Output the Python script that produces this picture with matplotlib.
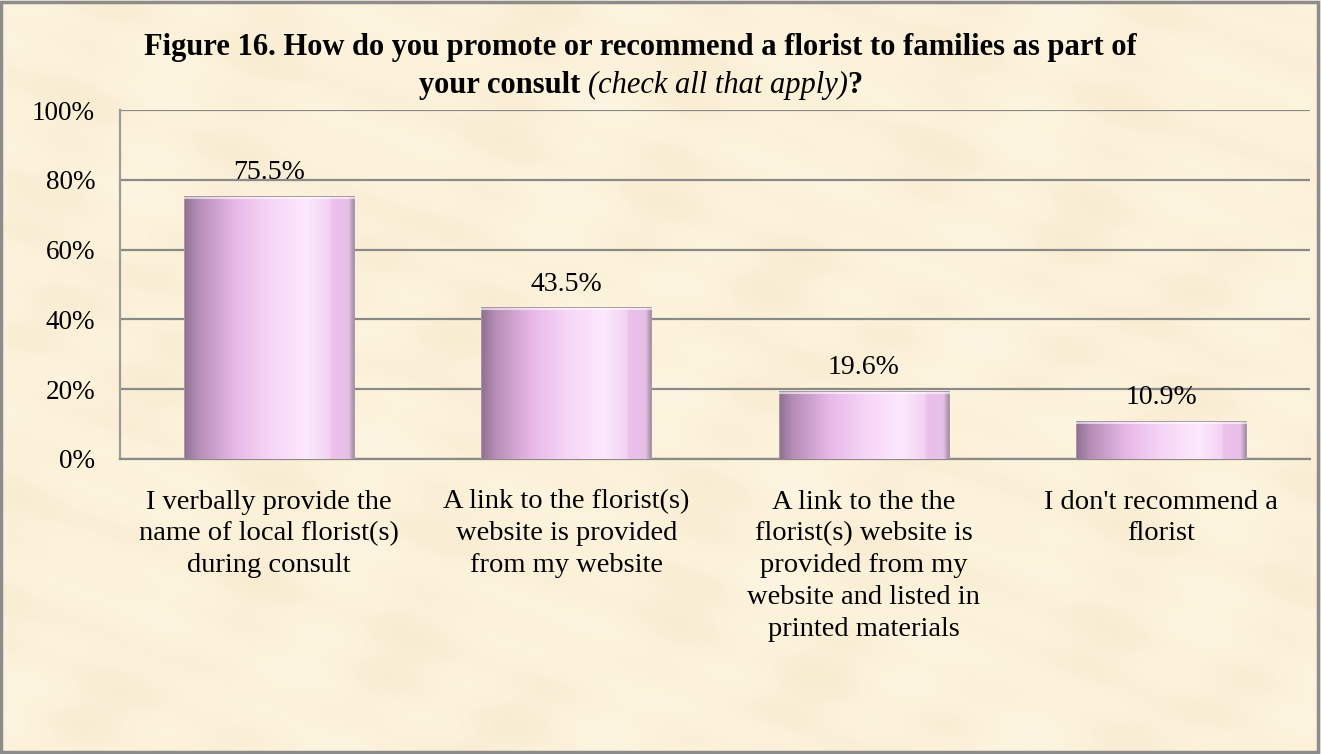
import numpy as np
import matplotlib.pyplot as plt
from matplotlib.colors import LinearSegmentedColormap
from matplotlib.patches import Rectangle

categories = [
    "I verbally provide the\nname of local florist(s)\nduring consult",
    "A link to the florist(s)\nwebsite is provided\nfrom my website",
    "A link to the the\nflorist(s) website is\nprovided from my\nwebsite and listed in\nprinted materials",
    "I don't recommend a\nflorist",
]
values = [75.5, 43.5, 19.6, 10.9]
yticks = [0, 20, 40, 60, 80, 100]

plt.rcParams['font.family'] = ['Liberation Serif', 'DejaVu Serif']

bg = '#fbf0d7'
fig = plt.figure(figsize=(13.21, 7.54), dpi=100, facecolor=bg)

# soft parchment mottling behind everything
yy, xx = np.mgrid[0:1:200j, 0:1:350j]
tex = (np.sin(xx * 31 + np.cos(yy * 11) * 2) * np.cos(yy * 23 + xx * 7)
       + 0.7 * np.sin(xx * 57 - yy * 41) * np.sin(yy * 49 + 1.3))
paper = LinearSegmentedColormap.from_list('paper', ['#f8ecd1', '#fcf2da', '#fdf5e1'])
bgax = fig.add_axes([0, 0, 1, 1], zorder=-10)
bgax.imshow(tex, cmap=paper, aspect='auto', interpolation='bicubic')
bgax.axis('off')

ax = fig.add_axes([120 / 1321, 1 - 459 / 754, 1190 / 1321, 349 / 754])
ax.patch.set_alpha(0)

x = np.arange(len(values))
bar_w = 0.57

# shaded cylinder-like fill for each bar
bar_cmap = LinearSegmentedColormap.from_list('bar', [
    (0.0, '#8f7090'), (0.08, '#b58db5'), (0.3, '#e8b8e8'),
    (0.5, '#f6d4f6'), (0.72, '#fde9fd'), (0.86, '#f3d2f3'),
    (0.87, '#ecc0ec'), (0.97, '#e6bfe6'), (1.0, '#a890a8')])
grad = np.linspace(0, 1, 256).reshape(1, -1)
bars = ax.bar(x, values, width=bar_w, color='none', edgecolor='none', zorder=3)
for b in bars:
    bx, by = b.get_x(), b.get_y()
    bw, bh = b.get_width(), b.get_height()
    im = ax.imshow(grad, cmap=bar_cmap, aspect='auto', extent=[bx, bx + bw, by, by + bh],
                   zorder=3, interpolation='bicubic')
    clip = Rectangle((bx, by), bw, bh, transform=ax.transData)
    im.set_clip_path(clip)
    ax.add_patch(Rectangle((bx, by), bw, bh, fill=False, edgecolor='#a898a8', lw=0.7, zorder=4))
    ax.plot([bx, bx + bw], [by + bh - 0.6, by + bh - 0.6], color='#ffffff', alpha=0.6, lw=1.5, zorder=4)
    ax.text(bx + bw / 2, bh + 3.0, f"{bh:.1f}%", ha='center', va='bottom',
            fontsize=20, zorder=5)
ax.set_xlim(-0.5, len(values) - 0.5)
ax.set_ylim(0, 100)

ax.set_yticks(yticks)
ax.set_yticklabels([f"{t}%" for t in yticks], fontsize=19.5)
ax.yaxis.grid(True, color='#8a8a8a', lw=1.6, zorder=1)
ax.set_axisbelow(True)
ax.tick_params(axis='y', length=0, pad=18)
ax.tick_params(axis='x', length=0, pad=22)
ax.set_xticks(x)
ax.set_xticklabels(categories, fontsize=20.5, linespacing=1.36, va='top')
for s in ['top', 'right']:
    ax.spines[s].set_visible(False)
ax.spines['left'].set_color('#9a9a9a')
ax.spines['left'].set_linewidth(1.6)
ax.spines['bottom'].set_color('#8a8a8a')
ax.spines['bottom'].set_linewidth(1.6)

# title with mixed bold / italic pieces
fig.text(0.485, 1 - 55 / 754,
         "Figure 16. How do you promote or recommend a florist to families as part of",
         ha='center', va='baseline', fontsize=22, fontweight='bold')
pieces = [("your consult ", dict(fontweight='bold')),
          ("(check all that apply)", dict(fontstyle='italic')),
          ("?", dict(fontweight='bold'))]
renderer = fig.canvas.get_renderer()
texts = [fig.text(0, 1 - 93 / 754, s, fontsize=22, va='baseline', **kw) for s, kw in pieces]
widths = [t.get_window_extent(renderer).width for t in texts]
start = 0.485 * fig.bbox.width - sum(widths) / 2
for t, w in zip(texts, widths):
    t.set_x(start / fig.bbox.width)
    start += w

fig.patches.append(Rectangle((0.001, 0.002), 0.997, 0.996, transform=fig.transFigure,
                             fill=False, edgecolor='#8c8c8c', lw=2.5))

fig.savefig('out.png', dpi=100, facecolor=bg)
